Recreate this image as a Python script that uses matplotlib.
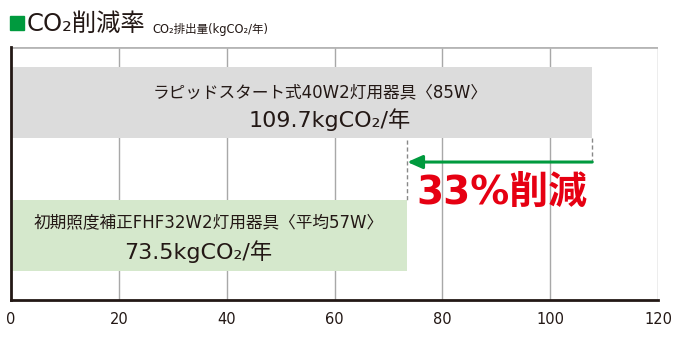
import matplotlib.pyplot as plt
from matplotlib.patches import Rectangle

plt.rcParams['font.family'] = ['DejaVu Sans', 'Noto Sans CJK JP']

# data
bar_lengths = [107.8, 73.5]
bar_names = ['ラピッドスタート式40W2灯用器具〈85W〉', '初期照度補正FHF32W2灯用器具〈平均57W〉']
bar_values = ['109.7kgCO₂/年', '73.5kgCO₂/年']
bar_colors = ['#dcdcdc', '#d5e8cc']
xticks = [0, 20, 40, 60, 80, 100, 120]
reduction = '33%削減'

fig = plt.figure(figsize=(6.8, 3.4), dpi=100)
ax = fig.add_axes([11/680, 40/340, 647/680, 253/340])

ypos = [0, 1]
ax.barh(ypos, bar_lengths, height=0.535, color=bar_colors, zorder=2)
ax.set_xlim(0, 120)
ax.set_ylim(1.49, -0.419)

for x in xticks[1:]:
    ax.axvline(x, color='#a8a8a8', lw=1, zorder=1)
ax.axhline(-0.419, color='#b5b5b5', lw=2, zorder=1)

ax.set_xticks(xticks)
ax.set_yticks([])
ax.tick_params(axis='x', length=0, pad=9, labelsize=10.5, labelcolor='#231815')
for s in ['top', 'right']:
    ax.spines[s].set_visible(False)
for s in ['left', 'bottom']:
    ax.spines[s].set_color('#231815')
    ax.spines[s].set_linewidth(2)
    ax.spines[s].set_zorder(5)

# labels inside bars
ax.text(57.3, -0.08, bar_names[0], ha='center', va='center', fontsize=12, color='#231815', zorder=3)
ax.text(59.2, 0.13, bar_values[0], ha='center', va='center', fontsize=16, color='#231815', zorder=3)
ax.text(36.7, 0.905, bar_names[1], ha='center', va='center', fontsize=12, color='#231815', zorder=3)
ax.text(34.7, 1.125, bar_values[1], ha='center', va='center', fontsize=16, color='#231815', zorder=3)

# reduction arrow and dashed guides
ya = 0.449
ax.plot([bar_lengths[0]] * 2, [0.2675, ya], ls=(0, (3, 2)), color='#888888', lw=1, zorder=3)
ax.plot([bar_lengths[1]] * 2, [0.28, 0.7325], ls=(0, (3, 2)), color='#888888', lw=1, zorder=3)
ax.annotate('', xy=(bar_lengths[1], ya), xytext=(bar_lengths[0], ya),
            arrowprops=dict(arrowstyle='-|>,head_length=0.9,head_width=0.4', color='#009a3e', lw=2.2,
                            shrinkA=0, shrinkB=0), zorder=4)
ax.text(91, 0.68, reduction, ha='center', va='center', fontsize=28, fontweight='bold',
        color='#e60012', zorder=4)

# title
fig.patches.append(Rectangle((10/680, 1 - 30/340), 14/680, 14/340, transform=fig.transFigure,
                             color='#009a3e'))
fig.text(27/680, 1 - 24/340, 'CO₂削減率', fontsize=17.5, va='center', ha='left', color='#231815')
fig.text(152/680, 1 - 29/340, 'CO₂排出量(kgCO₂/年)', fontsize=8.3, va='center', ha='left', color='#231815')

fig.savefig('out.png', dpi=100)
